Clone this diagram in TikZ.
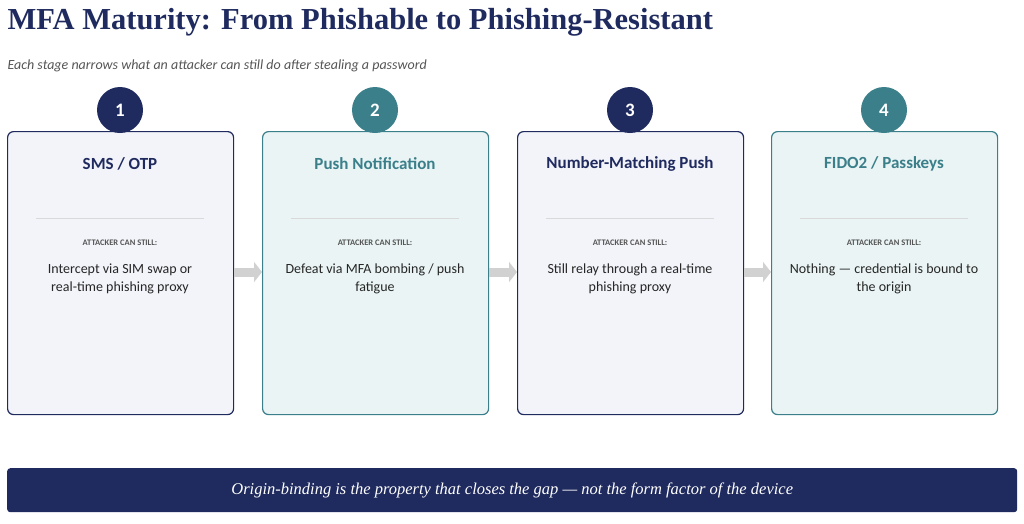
\documentclass[tikz,border=0pt]{standalone}
\usepackage{fontspec}
\setmainfont{Carlito}
\newfontfamily\titlefont{Liberation Serif}
\usetikzlibrary{positioning,arrows.meta}
\definecolor{navy}{HTML}{1F2A5E}
\definecolor{teal}{HTML}{3A7F8A}
\definecolor{navyfill}{HTML}{F3F4FA}
\definecolor{tealfill}{HTML}{EAF4F4}
\definecolor{subgray}{HTML}{555555}
\tikzset{
  card/.style={draw=#1,fill=#1fill,line width=1.2pt,rounded corners=6pt,minimum width=226pt,minimum height=283pt,anchor=north west},
  badge/.style={circle,fill=#1,minimum size=46pt,text=white,font=\bfseries\fontsize{19}{19}\selectfont},
  head/.style={text=#1,font=\bfseries\fontsize{17}{17}\selectfont},
  tag/.style={text=subgray,font=\bfseries\fontsize{8.5}{8.5}\selectfont},
  body/.style={text=black!85,align=center,font=\fontsize{14}{18}\selectfont}
}
\begin{document}
\begin{tikzpicture}[x=1pt,y=-1pt]
  \useasboundingbox (0,0) rectangle (1024,523);
  \node[anchor=west,text=navy,font=\titlefont\bfseries\fontsize{30.5}{30.5}\selectfont] (title) at (4,22) {MFA Maturity: From Phishable to Phishing-Resistant};
  \node[anchor=west,text=subgray,font=\itshape\fontsize{14}{14}\selectfont] (sub) at (4,66) {Each stage narrows what an attacker can still do after stealing a password};
  % stage cards
  \foreach \i/\x/\c/\t/\a/\b in {1/7/navy/{SMS / OTP}/{Intercept via SIM swap or}/{real-time phishing proxy},
      2/262/teal/{Push Notification}/{Defeat via MFA bombing / push}/{fatigue},
      3/517/navy/{Number-Matching Push}/{Still relay through a real-time}/{phishing proxy},
      4/771/teal/{FIDO2 / Passkeys}/{Nothing — credential is bound to}/{the origin}} {
    \node[card=\c] (c\i) at (\x,131) {};
    \node[badge=\c] (n\i) at (\x+113,110) {\i};
    \node[head=\c] (h\i) at (\x+113,164) {\t};
    \draw[black!15,line width=0.8pt] (\x+29,218) -- (\x+197,218);
    \node[tag] (k\i) at (\x+113,243) {ATTACKER CAN STILL:};
    \node[body] (b\i) at (\x+113,279) {\a\\\b};
  }
  \foreach \i/\j in {1/2,2/3,3/4}
    \draw[black!18,line width=9pt,-{Triangle[length=8pt,width=20pt]}] (c\i.east |- 0,272) -- (c\j.west |- 0,272);
  % banner
  \node[fill=navy,rounded corners=3pt,minimum width=1010pt,minimum height=44pt,anchor=north west,text=white,font=\titlefont\itshape\fontsize{16.5}{16.5}\selectfont] (note) at (7,468) {Origin-binding is the property that closes the gap — not the form factor of the device};
\end{tikzpicture}
\end{document}
